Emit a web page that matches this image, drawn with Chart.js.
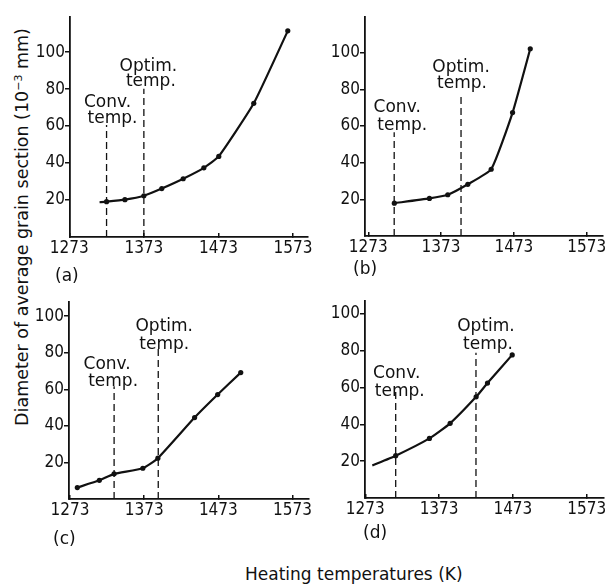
<!DOCTYPE html>
<html><head><meta charset="utf-8">
<script src="https://cdn.jsdelivr.net/npm/chart.js@4.4.0/dist/chart.umd.min.js"></script>
<style>
html,body{margin:0;padding:0;background:#fff;}
body{width:607px;height:584px;overflow:hidden;position:relative;font-family:"DejaVu Sans",sans-serif;color:#111;}
canvas{position:absolute;}
.lbl{position:absolute;font-size:17px;line-height:18px;white-space:nowrap;}
#ytitle{position:absolute;left:-178.5px;top:217.5px;width:400px;height:18px;font-size:17.5px;line-height:18px;text-align:center;white-space:nowrap;transform:rotate(-90deg);transform-origin:50% 50%;}
#xtitle{position:absolute;left:245px;top:565px;font-size:17px;line-height:18px;white-space:nowrap;}
sup{font-size:11px;vertical-align:6px;line-height:0;}
</style></head><body>
<div id="ytitle">Diameter of average grain section (10<sup>−3</sup> mm)</div>
<div id="xtitle">Heating temperatures (K)</div>
<script>
// ---- data ----
const xTicks = [1273, 1373, 1473, 1573];
const yTicks = [20, 40, 60, 80, 100];

const tempA = [1313.6, 1323, 1347.6, 1373, 1397, 1425.7, 1453.4, 1473.4, 1520.3, 1565.9];
const diamA = [18.8, 19.1, 20.2, 22.3, 26.2, 31.5, 37.4, 43.6, 72.3, 111.5];

const tempB = [1308.8, 1357, 1382.2, 1409.7, 1441.8, 1471.2, 1495.5];
const diamB = [17.9, 20.5, 22.5, 28.2, 36.4, 67.3, 102.1];

const tempC = [1282.9, 1312.6, 1332.5, 1371.2, 1391.5, 1441, 1472.1, 1503.2];
const diamC = [6.25, 10.2, 13.75, 16.8, 22.3, 44.5, 57.1, 69.1];

const tempD = [1282.5, 1314.2, 1359.9, 1388, 1423.2, 1438.6, 1472.1];
const diamD = [17.7, 23, 32.4, 40.6, 55, 62.5, 77.8];

// conventional / optimum heating temperature markers (x) and the height of their dashed lines
const convTemp  = [1323, 1308.6, 1332.5, 1314.2];
const convTop   = [60.6, 56.6, 61.6, 57.7];
const optimTemp = [1373, 1400.4, 1392, 1423];
const optimTop  = [80.2, 78, 82.5, 79];

const panelNames = ['(a)', '(b)', '(c)', '(d)'];
const convText  = ['Conv.', 'temp.'];
const optimText = ['Optim.', 'temp.'];

// ---- layout (page pixels / scale ranges) ----
const layout = [
  {L:70,  R:308, T:13,  B:237, xMin:1274,   xMax:1593,   yMax:119,   lab:[55,266],  startMarker:false,
   off:{conv:[[1,-18],[6,-2]], optim:[[4.5,-18],[7,-3]]}},
  {L:365, R:603, T:13,  B:236, xMin:1268.5, xMax:1595.4, yMax:119.4, lab:[353,259], startMarker:true,
   off:{conv:[[3,-20],[8,-2]], optim:[[0,-21],[1,-5]]}},
  {L:69,  R:309, T:298, B:499, xMin:1271.7, xMax:1595.2, yMax:107.7, lab:[53,529],  startMarker:true,
   off:{conv:[[-7,-17],[-1,0]], optim:[[6,-17],[6,1]]}},
  {L:365, R:604, T:297, B:498, xMin:1272.6, xMax:1596.5, yMax:107.1, lab:[363,523], startMarker:false,
   off:{conv:[[1,-14],[4,4]], optim:[[10,-22],[12,-4]]}}
];

const temps = [tempA, tempB, tempC, tempD];
const diams = [diamA, diamB, diamC, diamD];

const YAXW = 70, XAXH = 34, PADR = 16;
const TICK_FONT = {family:'"DejaVu Sans Condensed",sans-serif', size:17};
const TEXT_FONT = '17px "DejaVu Sans", sans-serif';

const textPlugin = {
  id: 'annoText',
  afterDatasetsDraw(chart, args, opts) {
    const {ctx, scales:{x, y}} = chart;
    const p = opts.p, lay = layout[p];
    ctx.save();
    ctx.fillStyle = '#111';
    ctx.font = TEXT_FONT;
    ctx.textAlign = 'center';
    ctx.textBaseline = 'alphabetic';
    const draw = (t, top, lines, off) => {
      const px = x.getPixelForValue(t), py = y.getPixelForValue(top);
      lines.forEach((s, i) => ctx.fillText(s, px + off[i][0], py + off[i][1]));
    };
    draw(convTemp[p], convTop[p], convText, lay.off.conv);
    draw(optimTemp[p], optimTop[p], optimText, lay.off.optim);
    ctx.restore();
  }
};

layout.forEach((lay, p) => {
  const cv = document.createElement('canvas');
  const w = (lay.R - lay.L) + YAXW + PADR;
  const h = (lay.B - lay.T) + XAXH;
  cv.width = w; cv.height = h;
  cv.style.left = (lay.L - YAXW) + 'px';
  cv.style.top = lay.T + 'px';
  cv.style.width = w + 'px'; cv.style.height = h + 'px';
  document.body.appendChild(cv);

  const lab = document.createElement('div');
  lab.className = 'lbl';
  lab.textContent = panelNames[p];
  lab.style.left = lay.lab[0] + 'px';
  lab.style.top = lay.lab[1] + 'px';
  document.body.appendChild(lab);

  const pts = temps[p].map((t, i) => ({x:t, y:diams[p][i]}));
  const dash = (t, top) => ({
    data:[{x:t, y:0}, {x:t, y:top}], showLine:true, borderColor:'#111', borderWidth:1.3,
    borderDash:[7,4], pointRadius:0, tension:0, order:2
  });

  new Chart(cv, {
    type:'scatter',
    data:{datasets:[
      {data:pts, showLine:true, borderColor:'#111', backgroundColor:'#111', borderWidth:2.2,
       tension:0.15,
       pointRadius:(c) => (c.dataIndex === 0 && !lay.startMarker) ? 0 : 2.6,
       pointBorderWidth:0, order:1},
      dash(convTemp[p], convTop[p]),
      dash(optimTemp[p], optimTop[p])
    ]},
    options:{
      responsive:false, animation:false, devicePixelRatio:1,
      layout:{padding:{left:0, top:0, right:PADR, bottom:0}},
      plugins:{legend:{display:false}, tooltip:{enabled:false}, annoText:{p}},
      scales:{
        x:{type:'linear', min:lay.xMin, max:lay.xMax,
           afterBuildTicks:(s) => { s.ticks = xTicks.map(v => ({value:v})); },
           afterFit:(s) => { s.height = XAXH; s.paddingLeft = 0; s.paddingRight = 0; s.paddingTop = 0; s.paddingBottom = 0; },
           grid:{drawOnChartArea:false, drawTicks:true, tickLength:-4, color:'#111', lineWidth:1.5},
           border:{display:true, color:'#111', width:1.8},
           ticks:{font:TICK_FONT, color:'#111', padding:5.8, maxRotation:0, autoSkip:false,
                  callback:(v) => String(v)}},
        y:{type:'linear', min:0, max:lay.yMax,
           afterBuildTicks:(s) => { s.ticks = yTicks.map(v => ({value:v})); },
           afterFit:(s) => { s.width = YAXW; s.paddingTop = 0; s.paddingBottom = 0; s.paddingLeft = 0; s.paddingRight = 0; },
           grid:{drawOnChartArea:false, drawTicks:true, tickLength:5, color:'#111', lineWidth:1.5},
           border:{display:true, color:'#111', width:1.8},
           ticks:{font:TICK_FONT, color:'#111', padding:0, autoSkip:false,
                  callback:(v) => String(v)}}
      }
    },
    plugins:[textPlugin]
  });
});
</script>
</body></html>
